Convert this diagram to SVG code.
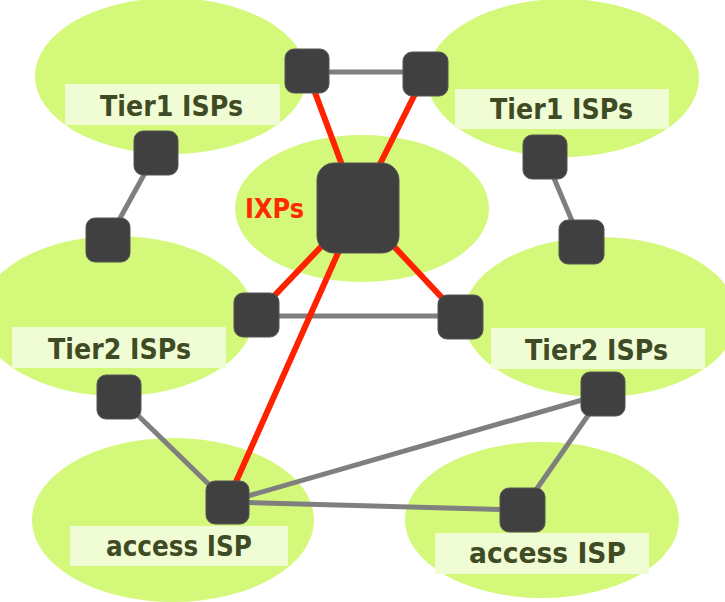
<svg xmlns="http://www.w3.org/2000/svg" width="725" height="602" viewBox="0 0 725 602">
<style>
.region{fill:#d4f87a}
.lbox{fill:#effcd4}
.lbl{font-family:"DejaVu Sans",Verdana,sans-serif;font-weight:bold;font-size:29px;fill:#3f4b24;text-anchor:middle}
.ixl{font-family:"DejaVu Sans",Verdana,sans-serif;font-weight:bold;font-size:27px;fill:#ff2a00;text-anchor:middle}
.gray{stroke:#7f7f7f;stroke-width:5;fill:none}
.red{stroke:#ff2200;stroke-width:6;fill:none}
.rt{fill:#404040;stroke:#555;stroke-width:1}
</style>
<rect width="725" height="602" fill="#ffffff"/>
<g id="tier1-left">
<ellipse class="region" cx="171" cy="76" rx="136" ry="78"/>
<rect class="lbox" x="65" y="84" width="215" height="41"/>
<text class="lbl" x="171.5" y="116" textLength="143" lengthAdjust="spacingAndGlyphs">Tier1 ISPs</text>
</g>
<g id="tier1-right">
<ellipse class="region" cx="563" cy="78" rx="136" ry="79"/>
<rect class="lbox" x="455" y="89" width="214" height="40"/>
<text class="lbl" x="561.5" y="119" textLength="143" lengthAdjust="spacingAndGlyphs">Tier1 ISPs</text>
</g>
<g id="ixps">
<ellipse class="region" cx="362" cy="208.5" rx="127" ry="73.5"/>
<text class="ixl" x="274.5" y="218" textLength="59" lengthAdjust="spacingAndGlyphs">IXPs</text>
</g>
<g id="tier2-left">
<ellipse class="region" cx="117" cy="316" rx="137" ry="80"/>
<rect class="lbox" x="12" y="327" width="214" height="41"/>
<text class="lbl" x="119.5" y="359" textLength="143" lengthAdjust="spacingAndGlyphs">Tier2 ISPs</text>
</g>
<g id="tier2-right">
<ellipse class="region" cx="600" cy="317" rx="137" ry="80"/>
<rect class="lbox" x="491" y="328" width="214" height="41"/>
<text class="lbl" x="596.5" y="360" textLength="143" lengthAdjust="spacingAndGlyphs">Tier2 ISPs</text>
</g>
<g id="access-left">
<ellipse class="region" cx="173" cy="520" rx="141" ry="82"/>
<rect class="lbox" x="70" y="526" width="218" height="40"/>
<text class="lbl" x="179" y="556" textLength="146" lengthAdjust="spacingAndGlyphs">access ISP</text>
</g>
<g id="access-right">
<ellipse class="region" cx="542" cy="520" rx="137" ry="78"/>
<rect class="lbox" x="435" y="533" width="214" height="41"/>
<text class="lbl" x="547.5" y="563" textLength="157" lengthAdjust="spacingAndGlyphs">access ISP</text>
</g>
<g id="connectors">
<line class="gray" x1="307" y1="72" x2="425" y2="72"/>
<line class="gray" x1="156" y1="153" x2="108" y2="240"/>
<line class="gray" x1="545" y1="157" x2="581" y2="242"/>
<line class="gray" x1="256" y1="316" x2="460" y2="316"/>
<line class="gray" x1="119" y1="397" x2="227" y2="502"/>
<line class="gray" x1="227" y1="502" x2="603" y2="394"/>
<line class="gray" x1="227" y1="502" x2="522" y2="510"/>
<line class="gray" x1="603" y1="394" x2="522" y2="510"/>
<line class="red" x1="307" y1="71" x2="358" y2="208"/>
<line class="red" x1="425" y1="74" x2="358" y2="208"/>
<line class="red" x1="358" y1="208" x2="256" y2="315"/>
<line class="red" x1="358" y1="208" x2="460" y2="317"/>
<line class="red" x1="358" y1="208" x2="227" y2="502"/>
</g>
<g id="router-t1l-a"><rect class="rt" x="285" y="49" width="44" height="44" rx="9"/></g>
<g id="router-t1r-a"><rect class="rt" x="403" y="52" width="45" height="44" rx="9"/></g>
<g id="router-t1l-b"><rect class="rt" x="134" y="131" width="44" height="44" rx="9"/></g>
<g id="router-t1r-b"><rect class="rt" x="523" y="135" width="44" height="44" rx="9"/></g>
<g id="router-t2l-a"><rect class="rt" x="86" y="218" width="44" height="44" rx="9"/></g>
<g id="router-t2r-a"><rect class="rt" x="559" y="220" width="45" height="44" rx="9"/></g>
<g id="router-ixp"><rect class="rt" x="317" y="163" width="82" height="90" rx="17"/></g>
<g id="router-t2l-b"><rect class="rt" x="234" y="293" width="45" height="44" rx="9"/></g>
<g id="router-t2r-b"><rect class="rt" x="438" y="295" width="45" height="44" rx="9"/></g>
<g id="router-t2l-c"><rect class="rt" x="97" y="375" width="44" height="44" rx="9"/></g>
<g id="router-t2r-c"><rect class="rt" x="581" y="372" width="44" height="44" rx="9"/></g>
<g id="router-acc-l"><rect class="rt" x="206" y="481" width="43" height="43" rx="9"/></g>
<g id="router-acc-r"><rect class="rt" x="500" y="488" width="45" height="44" rx="9"/></g>
</svg>
